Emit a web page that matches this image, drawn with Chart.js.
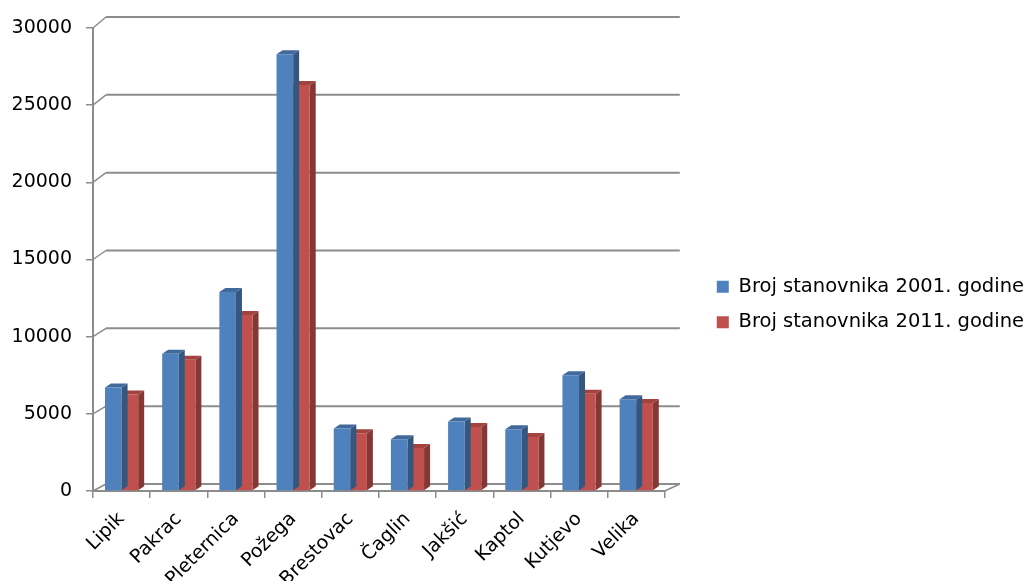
<!DOCTYPE html>
<html lang="hr">
<head>
<meta charset="UTF-8">
<title>Broj stanovnika</title>
<script src="https://cdn.jsdelivr.net/npm/chart.js"></script>
<style>
  html, body { margin: 0; padding: 0; background: #fff; }
  #wrap { width: 1034px; height: 581px; }
</style>
</head>
<body>
<div id="wrap"><canvas id="grafikon"></canvas></div>
<script>
const gradovi = ['Lipik', 'Pakrac', 'Pleternica', 'Požega', 'Brestovac', 'Čaglin', 'Jakšić', 'Kaptol', 'Kutjevo', 'Velika'];
const stanovnici2001 = [6700, 8900, 12900, 28300, 4050, 3350, 4500, 4000, 7500, 5950];
const stanovnici2011 = [6250, 8500, 11400, 26300, 3750, 2780, 4150, 3500, 6300, 5700];
const oznake = ['Broj stanovnika 2001. godine', 'Broj stanovnika 2011. godine'];

const font = 'DejaVu Sans, Verdana, sans-serif';
const siva = '#8c8c8c';
const boje = [
  { lice: '#4F81BD', vrh: '#41699C', bok: '#34577F' },
  { lice: '#C0504D', vrh: '#A3433F', bok: '#853734' }
];
const dubina = { dx: 6, dy: -4 };

function poligon(ctx, tocke, boja) {
  ctx.fillStyle = boja;
  ctx.beginPath();
  ctx.moveTo(tocke[0][0], tocke[0][1]);
  for (let i = 1; i < tocke.length; i++) ctx.lineTo(tocke[i][0], tocke[i][1]);
  ctx.closePath();
  ctx.fill();
}

// zadnji zid s mrezom i pod
const zid = {
  id: 'zid',
  beforeDatasetsDraw(chart) {
    const { ctx, chartArea: a, scales: { y } } = chart;
    ctx.save();
    y.ticks.forEach(t => {
      const yf = y.getPixelForValue(t.value);
      const f = (t.value - y.min) / (y.max - y.min);
      const ox = 13, oy = -7 - 4 * f;
      ctx.strokeStyle = siva;
      ctx.lineWidth = 1.5;
      ctx.beginPath();
      ctx.moveTo(a.left, yf);
      ctx.lineTo(a.left + ox, yf + oy);
      ctx.stroke();
      ctx.lineWidth = 2;
      ctx.beginPath();
      ctx.moveTo(a.left + ox, yf + oy);
      ctx.lineTo(a.right + 15, yf + oy);
      ctx.stroke();
    });
    ctx.lineWidth = 1.5;
    ctx.beginPath();
    ctx.moveTo(a.right, a.bottom);
    ctx.lineTo(a.right + 15, a.bottom - 7);
    ctx.stroke();
    ctx.restore();
  }
};

// bocne i gornje plohe stupaca
const stupci3d = {
  id: 'stupci3d',
  beforeDatasetDraw(chart, args) {
    const ctx = chart.ctx;
    const b = boje[args.index];
    const { dx, dy } = dubina;
    ctx.save();
    args.meta.data.forEach(bar => {
      const l = bar.x - bar.width / 2, r = bar.x + bar.width / 2;
      const t = bar.y, d = bar.base;
      poligon(ctx, [[r, t], [r + dx, t + dy], [r + dx, d + dy], [r, d]], b.bok);
      poligon(ctx, [[l, t], [l + dx, t + dy], [r + dx, t + dy], [r, t]], b.vrh);
    });
    ctx.restore();
  }
};

new Chart(document.getElementById('grafikon'), {
  type: 'bar',
  data: {
    labels: gradovi,
    datasets: [
      { label: oznake[0], data: stanovnici2001, backgroundColor: boje[0].lice, borderWidth: 0 },
      { label: oznake[1], data: stanovnici2011, backgroundColor: boje[1].lice, borderWidth: 0 }
    ]
  },
  options: {
    responsive: true,
    maintainAspectRatio: false,
    animation: false,
    layout: { padding: { top: 28, left: 0, right: 0, bottom: 0 } },
    datasets: { bar: { categoryPercentage: 0.58, barPercentage: 1 } },
    plugins: {
      tooltip: { enabled: false },
      legend: {
        position: 'right',
        maxWidth: 360,
        labels: {
          boxWidth: 12, boxHeight: 12, padding: 16, color: '#000',
          font: { family: font, size: 19.5 }
        }
      }
    },
    scales: {
      x: {
        grid: { drawOnChartArea: false, tickLength: 7, color: siva, lineWidth: 1.5, offset: true },
        border: { color: siva, width: 2 },
        ticks: { minRotation: 45, maxRotation: 45, padding: 10, color: '#000', font: { family: font, size: 19 } },
        afterFit(s) { s.height = 90; }
      },
      y: {
        min: 0, max: 30000,
        grid: { drawOnChartArea: false, tickLength: 7, color: siva, lineWidth: 1.5 },
        border: { color: siva, width: 2 },
        ticks: { stepSize: 5000, padding: 14, color: '#000', font: { family: font, size: 19 }, callback: v => String(v) },
        afterFit(s) { s.width = 93; }
      },
      desno: {
        type: 'linear', position: 'right', display: true,
        grid: { display: false }, border: { display: false }, ticks: { display: false },
        afterFit(s) { s.width = 36; }
      }
    }
  },
  plugins: [zid, stupci3d]
});
</script>
</body>
</html>
